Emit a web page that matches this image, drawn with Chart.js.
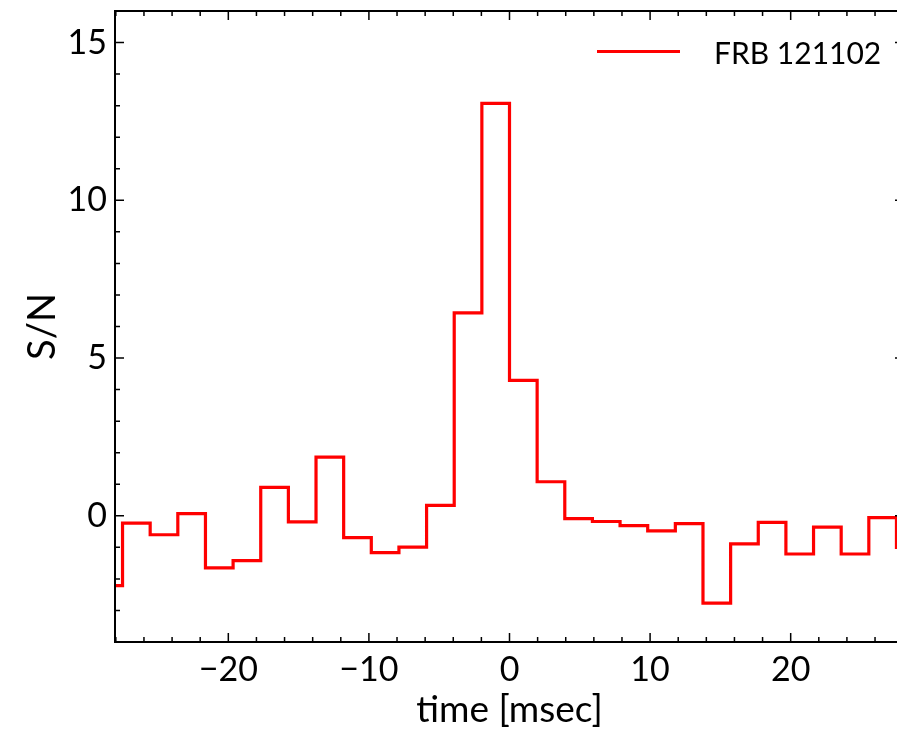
<!DOCTYPE html>
<html>
<head>
<meta charset="utf-8">
<script src="https://cdn.jsdelivr.net/npm/chart.js@4"></script>
<style>
html, body { margin: 0; padding: 0; background: #fff; overflow: hidden; }
#wrap { width: 910px; height: 732px; }
</style>
</head>
<body>
<div id="wrap"><canvas id="chartFrb" width="910" height="732"></canvas></div>
<script>
// bins of the dedispersed time series (ms), step drawn from each bin's left edge
const binWidth = 1.966;
const firstBin = -15;
const snr = [
    -2.21, -0.23, -0.60, 0.07, -1.65, -1.42, 0.90, -0.19, 1.86, -0.69,
    -1.17, -0.99, 0.33, 6.43, 13.07, 4.29, 1.08, -0.09, -0.18, -0.31,
    -0.48, -0.25, -2.77, -0.89, -0.21, -1.21, -0.36, -1.21, -0.06, -1.00
];
const xTicks = [-20, -10, 0, 10, 20];
const yTicks = [0, 5, 10, 15];
const seriesLabel = 'FRB 121102';

const points = snr.map((v, i) => ({ x: (firstBin + i) * binWidth, y: v }));
points.push({ x: (firstBin + snr.length) * binWidth, y: snr[snr.length - 1] });

const FONT = 'Lato';

// inward ticks on all four sides + frame + legend
const frameTicks = {
    id: 'frameTicks',
    afterDatasetsDraw(chart) {
        const { ctx, chartArea: a, scales: { x, y } } = chart;
        ctx.save();
        ctx.strokeStyle = '#000';
        ctx.lineWidth = 1.5;
        ctx.beginPath();
        for (let v = -28; v <= 28; v += 2) {
            const px = x.getPixelForValue(v);
            const len = xTicks.includes(v) ? 9 : 5;
            ctx.moveTo(px, a.bottom); ctx.lineTo(px, a.bottom - len);
            ctx.moveTo(px, a.top); ctx.lineTo(px, a.top + len);
        }
        for (let v = -4; v <= 16; v += 1) {
            const py = y.getPixelForValue(v);
            const len = yTicks.includes(v) ? 9 : 5;
            ctx.moveTo(a.left, py); ctx.lineTo(a.left + len, py);
            ctx.moveTo(a.right, py); ctx.lineTo(a.right - len, py);
        }
        ctx.stroke();

        ctx.lineWidth = 2;
        ctx.strokeRect(a.left, a.top, a.width, a.height);

        // legend
        ctx.strokeStyle = '#ff0000';
        ctx.lineWidth = 3;
        ctx.beginPath();
        ctx.moveTo(597, 51.5);
        ctx.lineTo(680, 51.5);
        ctx.stroke();
        ctx.fillStyle = '#000';
        ctx.font = '30px ' + FONT;
        ctx.textBaseline = 'alphabetic';
        ctx.fillText(seriesLabel, 714, 63.5);
        ctx.restore();
    }
};

const noPad = s => { s.paddingTop = 0; s.paddingBottom = 0; s.paddingLeft = 0; s.paddingRight = 0; };

Chart.defaults.color = '#000';
Chart.defaults.font.family = FONT;

new Chart(document.getElementById('chartFrb'), {
    type: 'line',
    data: {
        datasets: [{
            label: seriesLabel,
            data: points,
            stepped: 'before',
            borderColor: '#ff0000',
            borderWidth: 3.2,
            pointRadius: 0,
            fill: false,
            clip: 0
        }]
    },
    options: {
        responsive: false,
        animation: false,
        layout: { padding: { top: 11, right: 6, left: 0, bottom: 0 } },
        plugins: {
            legend: { display: false },
            tooltip: { enabled: false }
        },
        scales: {
            x: {
                type: 'linear',
                min: -28.06,
                max: 28.06,
                afterBuildTicks: s => { s.ticks = xTicks.map(v => ({ value: v })); },
                afterFit: s => { s.height = 90; noPad(s); },
                grid: { display: false, drawTicks: false },
                border: { display: false },
                ticks: {
                    font: { size: 34 },
                    padding: 8,
                    maxRotation: 0,
                    callback: v => (v < 0 ? '\u2212' + Math.abs(v) : String(v))
                },
                title: {
                    display: true,
                    text: 'time [msec]',
                    font: { size: 37 },
                    padding: { top: 0, bottom: 0 }
                }
            },
            y: {
                min: -4,
                max: 16,
                afterBuildTicks: s => { s.ticks = yTicks.map(v => ({ value: v })); },
                afterFit: s => { s.width = 115; noPad(s); },
                grid: { display: false, drawTicks: false },
                border: { display: false },
                ticks: {
                    font: { size: 34 },
                    padding: 8
                },
                title: {
                    display: true,
                    text: 'S/N',
                    font: { size: 38 },
                    padding: { top: 20, bottom: 0 }
                }
            }
        }
    },
    plugins: [frameTicks]
});
</script>
</body>
</html>
